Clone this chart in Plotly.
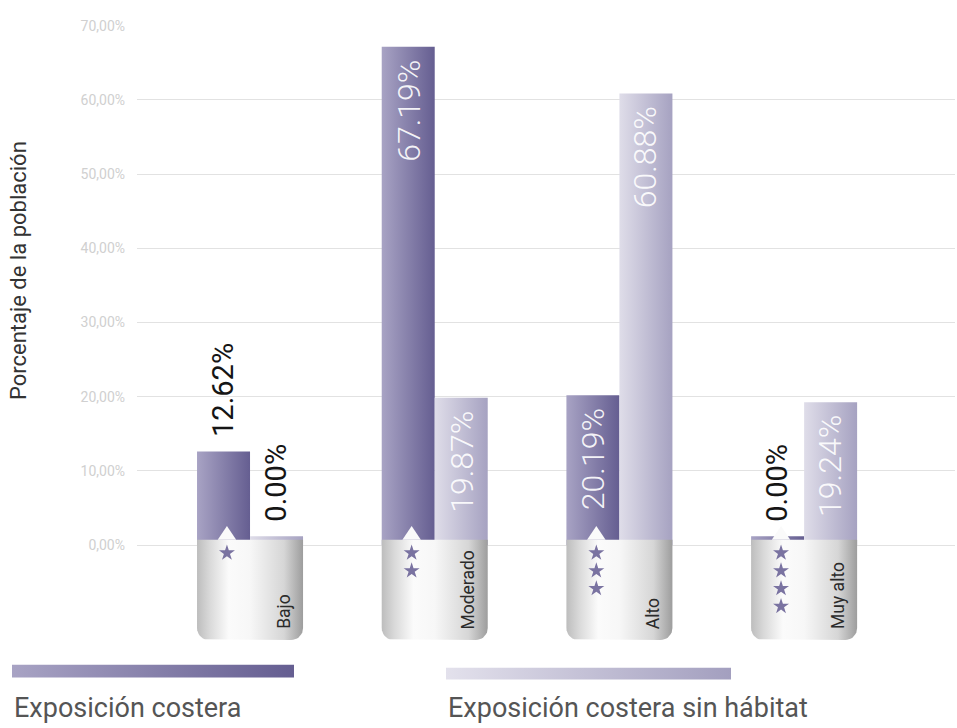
import numpy as np
import plotly.graph_objects as go

# ---------------- data ----------------
categories = ["Bajo", "Moderado", "Alto", "Muy alto"]
star_counts = [1, 2, 3, 4]
series_names = ["Exposición costera", "Exposición costera sin hábitat"]
exposicion_costera = [12.62, 67.19, 20.19, 0.00]
exposicion_sin_habitat = [0.00, 19.87, 60.88, 19.24]
tick_values = [0, 10, 20, 30, 40, 50, 60, 70]
tick_labels = ["0,00%", "10,00%", "20,00%", "30,00%", "40,00%", "50,00%", "60,00%", "70,00%"]
y_title = "Porcentaje de la población"

# ---------------- styles ----------------
W, H = 957, 728
FONT = "Roboto"
BAR_W = 0.287
MIN_H = 1.2
X_RANGE = [-0.612, 3.817]
Y_RANGE = [-13.0, 70.0]
X_DOM = [137 / W, 955 / W]
Y_DOM = [87.5 / H, 1 - 18 / H]
PX_X = (X_DOM[1] - X_DOM[0]) * W / (X_RANGE[1] - X_RANGE[0])
PX_Y = (Y_DOM[1] - Y_DOM[0]) * H / (Y_RANGE[1] - Y_RANGE[0])

SERIES_GRAD = [
    [[0, "#a8a3c4"], [1, "#655e91"]],
    [[0, "#dfdde9"], [1, "#a6a2c1"]],
]
LEGEND_GRAD = [
    [[0, "#a8a3c4"], [1, "#655e91"]],
    [[0, "#e3e1ec"], [1, "#a39fbf"]],
]
BOX_GRAD = [[0, "#bdbdbd"], [0.12, "#d9d9d9"], [0.3, "#fbfbfb"], [0.5, "#f7f7f7"],
            [0.82, "#d6d6d6"], [1, "#9d9d9d"]]
STAR_COLOR = "#7a73a1"

fig = go.Figure()

# ---------------- bars ----------------
series_values = [exposicion_costera, exposicion_sin_habitat]
annotations = []
for s, vals in enumerate(series_values):
    for j, v in enumerate(vals):
        x0 = j - BAR_W if s == 0 else j
        x1 = x0 + BAR_W
        top = max(v, MIN_H)
        fig.add_trace(go.Scatter(
            x=[x0, x1, x1, x0, x0], y=[0, 0, top, top, 0],
            mode="lines", line=dict(width=0), fill="toself",
            fillgradient=dict(type="horizontal", colorscale=SERIES_GRAD[s]),
            name=series_names[s], showlegend=False,
            hoveron="fills", text=f"{categories[j]}: {v:.2f}%", hoverinfo="text",
            xaxis="x", yaxis="y"))
        xc = (x0 + x1) / 2
        label = f"{v:.2f}%"
        if v >= 15:
            annotations.append(dict(
                x=xc, y=v, xref="x", yref="y", text=label, showarrow=False,
                textangle=-90, xanchor="center", yanchor="top", yshift=-11,
                font=dict(family=FONT, size=32, color="rgba(255,255,255,0.92)", weight=300)))
        else:
            annotations.append(dict(
                x=xc, y=top, xref="x", yref="y", text=label, showarrow=False,
                textangle=-90, xanchor="center", yanchor="bottom", yshift=12,
                font=dict(family=FONT, size=29, color="#151515")))

# ---------------- category boxes ----------------
def rounded_box(x0, x1, ytop, ybot, rx, ry, n=10):
    xs = [x0, x1, x1]
    ys = [ytop, ytop, ybot + ry]
    for t in np.linspace(0, -np.pi / 2, n):
        xs.append(x1 - rx + rx * np.cos(t)); ys.append(ybot + ry + ry * np.sin(t))
    for t in np.linspace(-np.pi / 2, -np.pi, n):
        xs.append(x0 + rx + rx * np.cos(t)); ys.append(ybot + ry + ry * np.sin(t))
    xs.append(x0); ys.append(ytop)
    return xs, ys

BOX_TOP = 0.7
BOX_BOT = -12.8
R = 12
for j, cat in enumerate(categories):
    xs, ys = rounded_box(j - BAR_W, j + BAR_W, BOX_TOP, BOX_BOT, R / PX_X, R / PX_Y)
    fig.add_trace(go.Scatter(
        x=xs, y=ys, mode="lines", line=dict(width=0), fill="toself",
        fillgradient=dict(type="horizontal", colorscale=BOX_GRAD),
        showlegend=False, hoverinfo="skip", xaxis="x", yaxis="y"))
    # notch
    nx = j - 0.125
    fig.add_trace(go.Scatter(
        x=[nx - 0.05, nx, nx + 0.05, nx - 0.05],
        y=[BOX_TOP, BOX_TOP + 14 / PX_Y, BOX_TOP, BOX_TOP],
        mode="lines", line=dict(width=0), fill="toself", fillcolor="#fafafa",
        showlegend=False, hoverinfo="skip", xaxis="x", yaxis="y"))
    # stars
    fig.add_trace(go.Scatter(
        x=[nx] * star_counts[j],
        y=[-8 / PX_Y - k * 18 / PX_Y for k in range(star_counts[j])],
        mode="markers", marker=dict(symbol="star", size=12, color=STAR_COLOR, line=dict(width=0)),
        showlegend=False, hoverinfo="skip", xaxis="x", yaxis="y"))
    annotations.append(dict(
        x=j + 0.18, y=-87 / PX_Y, xref="x", yref="y", text=cat, showarrow=False,
        textangle=-90, xanchor="center", yanchor="bottom",
        font=dict(family=FONT, size=17.5, color="#2a2a2a")))

# ---------------- custom legend (page-level overlay axes) ----------------
legend_boxes = [(12, 294, 664, 677), (446, 731, 667, 679)]
for s, (lx0, lx1, ly0, ly1) in enumerate(legend_boxes):
    fig.add_trace(go.Scatter(
        x=[lx0, lx1, lx1, lx0, lx0], y=[ly0, ly0, ly1, ly1, ly0],
        mode="lines", line=dict(width=0), fill="toself",
        fillgradient=dict(type="horizontal", colorscale=LEGEND_GRAD[s]),
        showlegend=False, hoverinfo="skip", xaxis="x2", yaxis="y2"))
    annotations.append(dict(
        x=lx0 / W, y=1 - 708 / H, xref="paper", yref="paper", text=series_names[s],
        showarrow=False, xanchor="left", yanchor="middle",
        font=dict(family=FONT, size=27, color="#555555")))

# y-axis title
annotations.append(dict(
    x=18 / W, y=1 - 266 / H, xref="paper", yref="paper", text=y_title, showarrow=False,
    textangle=-90, xanchor="center", yanchor="middle",
    font=dict(family=FONT, size=22, color="#333333")))

fig.update_layout(
    width=W, height=H,
    margin=dict(l=0, r=0, t=0, b=0),
    paper_bgcolor="white", plot_bgcolor="rgba(0,0,0,0)",
    showlegend=False,
    font=dict(family=FONT),
    xaxis=dict(domain=X_DOM, range=X_RANGE, visible=False, fixedrange=True),
    yaxis=dict(domain=Y_DOM, range=Y_RANGE, tickvals=tick_values, ticktext=tick_labels,
               showgrid=True, gridcolor="#e2e2e2", gridwidth=1, zeroline=False,
               showline=False, ticks="", ticklabelstandoff=11,
               tickfont=dict(family=FONT, size=14, color="#d0d0d0"), fixedrange=True),
    xaxis2=dict(domain=[0, 1], range=[0, W], visible=False, anchor="y2", fixedrange=True),
    yaxis2=dict(domain=[0, 1], range=[H, 0], visible=False, anchor="x2", fixedrange=True),
    annotations=annotations,
    hovermode="closest",
)

fig.write_html("out.html")
